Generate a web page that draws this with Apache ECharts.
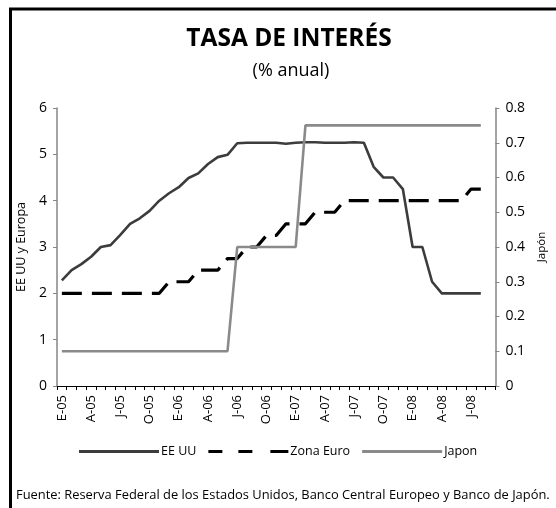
<!DOCTYPE html>
<html>
<head>
<meta charset="utf-8">
<script src="https://cdn.jsdelivr.net/npm/echarts@6/dist/echarts.min.js"></script>
<style>
html,body{margin:0;padding:0;background:#fff;}
#chart{width:556px;height:508px;}
</style>
</head>
<body>
<div id="chart"></div>
<script>
// Categories: monthly, Jan 2005 – Sep 2008 (Spanish month initials)
const months = ['E','F','M','A','M','J','J','A','S','O','N','D'];
const categories = [];
for (let y = 5; y <= 8; y++) {
  for (let m = 0; m < 12; m++) {
    if (y === 8 && m > 8) break;
    categories.push(months[m] + '-0' + y);
  }
}

// EE UU (% anual), Jan 2005 – Aug 2008
const eeuu = [
  2.28, 2.50, 2.63, 2.79, 3.00, 3.04, 3.26, 3.50, 3.62, 3.78, 4.00, 4.16,
  4.29, 4.49, 4.59, 4.79, 4.94, 4.99, 5.24, 5.25, 5.25, 5.25, 5.25, 5.23,
  5.25, 5.26, 5.26, 5.25, 5.25, 5.25, 5.26, 5.25, 4.73, 4.50, 4.50, 4.25,
  3.00, 3.00, 2.25, 2.00, 2.00, 2.00, 2.00, 2.00
];

// Zona Euro (% anual), Jan 2005 – Aug 2008
const zonaEuro = [
  2.00, 2.00, 2.00, 2.00, 2.00, 2.00, 2.00, 2.00, 2.00, 2.00, 2.00, 2.25,
  2.25, 2.25, 2.50, 2.50, 2.50, 2.75, 2.75, 3.00, 3.00, 3.25, 3.25, 3.50,
  3.50, 3.50, 3.75, 3.75, 3.75, 4.00, 4.00, 4.00, 4.00, 4.00, 4.00, 4.00,
  4.00, 4.00, 4.00, 4.00, 4.00, 4.00, 4.25, 4.25
];

// Japón (% anual, right axis), Jan 2005 – Aug 2008
const japon = [
  0.10, 0.10, 0.10, 0.10, 0.10, 0.10, 0.10, 0.10, 0.10, 0.10, 0.10, 0.10,
  0.10, 0.10, 0.10, 0.10, 0.10, 0.10, 0.40, 0.40, 0.40, 0.40, 0.40, 0.40,
  0.40, 0.75, 0.75, 0.75, 0.75, 0.75, 0.75, 0.75, 0.75, 0.75, 0.75, 0.75,
  0.75, 0.75, 0.75, 0.75, 0.75, 0.75, 0.75, 0.75
];

const leftTicks = [0, 6, 1];     // min, max, interval
const rightTicks = [0, 0.8, 0.1];

const FONT = '"Open Sans", "DejaVu Sans", sans-serif';
const chart = echarts.init(document.getElementById('chart'), null, {renderer: 'canvas'});

const solidIcon = 'path://M0,0H80V3H0Z';
const dashIcon = 'path://M0,0H14V3H0Z M30,0H44V3H30Z M62,0H80V3H62Z';

chart.setOption({
  animation: false,
  backgroundColor: '#ffffff',
  title: [
    {
      text: 'TASA DE INTERÉS',
      left: 284, top: 22, textAlign: 'center',
      textStyle: {fontFamily: FONT, fontSize: 24.5, fontWeight: 'bold', color: '#000'}
    },
    {
      text: '(% anual)',
      left: 286, top: 57, textAlign: 'center',
      textStyle: {fontFamily: FONT, fontSize: 18, fontWeight: 'normal', color: '#000'}
    }
  ],
  grid: {left: 57, right: 51, top: 108, bottom: 122, containLabel: false},
  legend: {
    bottom: 45,
    left: 74,
    itemWidth: 80,
    itemHeight: 3,
    itemGap: 12,
    textStyle: {fontFamily: FONT, fontSize: 12.5, color: '#000', padding: [0, 0, 0, -3]},
    data: [
      {name: 'EE UU', icon: solidIcon},
      {name: 'Zona Euro', icon: dashIcon},
      {name: 'Japon', icon: solidIcon}
    ]
  },
  xAxis: {
    type: 'category',
    data: categories,
    boundaryGap: true,
    axisLine: {lineStyle: {color: '#000', width: 1}},
    axisTick: {show: true, interval: 0, length: 4, lineStyle: {color: '#000'}},
    axisLabel: {
      interval: 2, rotate: 90, margin: 9,
      fontFamily: FONT, fontSize: 13, color: '#000'
    },
    splitLine: {show: false}
  },
  yAxis: [
    {
      type: 'value',
      min: leftTicks[0], max: leftTicks[1], interval: leftTicks[2],
      name: 'EE UU y Europa',
      nameLocation: 'middle', nameGap: 26, nameRotate: 90,
      nameTextStyle: {fontFamily: FONT, fontSize: 12.5, color: '#000'},
      axisLine: {show: true, lineStyle: {color: '#868686', width: 1.5}},
      axisTick: {show: true, length: 4, lineStyle: {color: '#868686'}},
      axisLabel: {fontFamily: FONT, fontSize: 14, color: '#000', margin: 10},
      splitLine: {show: false}
    },
    {
      type: 'value',
      min: rightTicks[0], max: rightTicks[1], interval: rightTicks[2],
      position: 'right',
      name: 'Japón',
      nameLocation: 'middle', nameGap: 36, nameRotate: 90,
      nameTextStyle: {fontFamily: FONT, fontSize: 11.5, color: '#000'},
      axisLine: {show: true, lineStyle: {color: '#868686', width: 1.5}},
      axisTick: {show: true, length: 4, lineStyle: {color: '#868686'}},
      axisLabel: {fontFamily: FONT, fontSize: 14, color: '#000', margin: 10,
        formatter: v => (v === 0 ? '0' : v.toFixed(1))},
      splitLine: {show: false}
    }
  ],
  series: [
    {
      name: 'EE UU', type: 'line', yAxisIndex: 0, data: eeuu,
      symbol: 'none', color: '#3c3c3c',
      lineStyle: {color: '#3c3c3c', width: 2.6}
    },
    {
      name: 'Zona Euro', type: 'line', yAxisIndex: 0, data: zonaEuro,
      symbol: 'none', color: '#000',
      lineStyle: {color: '#000', width: 3.2, type: [20, 10]}
    },
    {
      name: 'Japon', type: 'line', yAxisIndex: 1, data: japon,
      symbol: 'none', color: '#8a8a8a',
      lineStyle: {color: '#8a8a8a', width: 2.6}
    }
  ],
  graphic: [
    {type: 'line', shape: {x1: 10.5, y1: 9, x2: 10.5, y2: 508}, style: {stroke: '#000', lineWidth: 3}},
    {type: 'line', shape: {x1: 9, y1: 9, x2: 556, y2: 9}, style: {stroke: '#000', lineWidth: 3}},
    {
      type: 'text', left: 16, top: 489,
      style: {
        text: 'Fuente: Reserva Federal de los Estados Unidos, Banco Central Europeo y Banco de Japón.',
        fontFamily: FONT, fontSize: 12.9, fill: '#000'
      }
    }
  ]
});
</script>
</body>
</html>
